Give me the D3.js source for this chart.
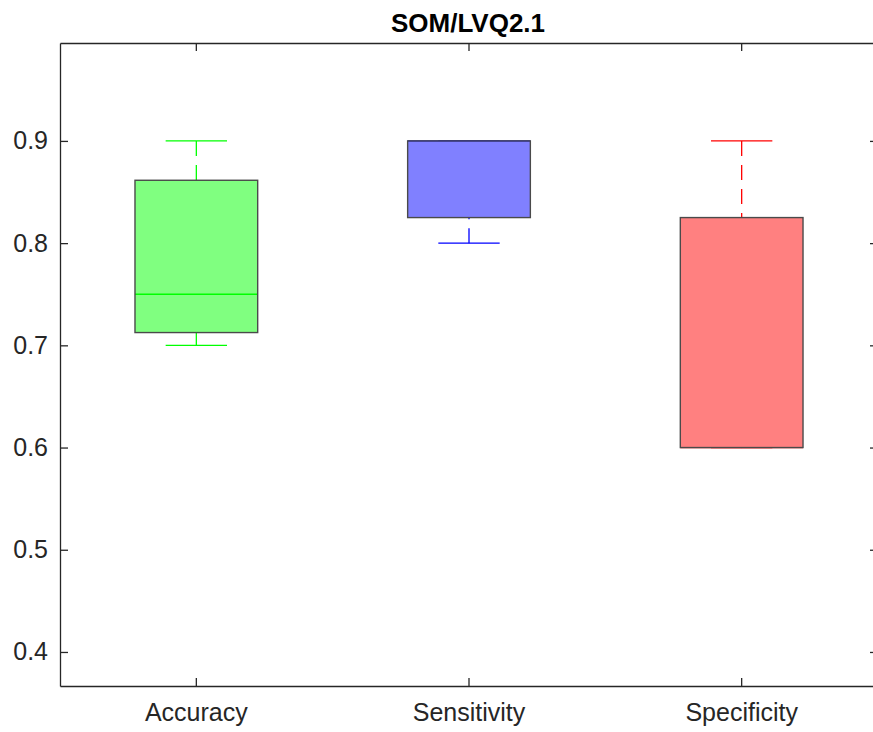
<!DOCTYPE html>
<html>
<head>
<meta charset="utf-8">
<script src="https://d3js.org/d3.v7.min.js"></script>
<style>
  body { margin: 0; background: #fff; }
  svg { display: block; }
</style>
</head>
<body>
<div id="box_object"></div>
<script>
// data
var categories = ["Accuracy", "Sensitivity", "Specificity"];
var lowerWhisker = [0.70, 0.80, 0.60];
var q1 = [0.7125, 0.825, 0.60];
var medians = [0.75, 0.90, 0.60];
var q3 = [0.8615, 0.90, 0.825];
var upperWhisker = [0.90, 0.90, 0.90];
var yTicks = [0.4, 0.5, 0.6, 0.7, 0.8, 0.9];
var lineColors = ["#00ff00", "#0000ff", "#ff0000"];
var fillColors = ["#80ff80", "#8080ff", "#ff8080"];
var titleText = "SOM/LVQ2.1";

var boxes = categories.map(function(c, i) {
  return {name: c, lo: lowerWhisker[i], q1: q1[i], med: medians[i], q3: q3[i], hi: upperWhisker[i],
          line: lineColors[i], fill: fillColors[i]};
});

// set the dimensions and margins of the graph
var totalW = 873, totalH = 732;
var margin = {top: 43, left: 60},
width = 818,
height = 643;

var svg = d3.select("#box_object")
.append("svg")
.attr("width", totalW)
.attr("height", totalH)
.style("font-family", "'Liberation Sans', Arial, sans-serif")
.append("g")
.attr("transform", "translate(" + margin.left + "," + margin.top + ")");

// scales
var x = d3.scaleBand()
.range([0, width])
.domain(categories)
.padding(0);

var y = d3.scaleLinear()
.domain([0.3667, 0.9958])
.range([height, 0]);

var boxW = x.bandwidth() * 0.45;
var capW = boxW / 2;

// whiskers (dashed)
svg.selectAll(".whiskUp")
.data(boxes)
.enter().append("line")
.attr("x1", d => x(d.name) + x.bandwidth() / 2)
.attr("x2", d => x(d.name) + x.bandwidth() / 2)
.attr("y1", d => y(d.hi))
.attr("y2", d => y(d.q3))
.style("stroke", d => d.line)
.style("stroke-width", 1.3)
.style("stroke-dasharray", "15,9");

svg.selectAll(".whiskDown")
.data(boxes)
.enter().append("line")
.attr("x1", d => x(d.name) + x.bandwidth() / 2)
.attr("x2", d => x(d.name) + x.bandwidth() / 2)
.attr("y1", d => y(d.lo))
.attr("y2", d => y(d.q1))
.style("stroke", d => d.line)
.style("stroke-width", 1.3)
.style("stroke-dasharray", "15,9");

// caps
svg.selectAll(".capHi")
.data(boxes)
.enter().append("line")
.attr("x1", d => x(d.name) + x.bandwidth() / 2 - capW / 2)
.attr("x2", d => x(d.name) + x.bandwidth() / 2 + capW / 2)
.attr("y1", d => y(d.hi))
.attr("y2", d => y(d.hi))
.style("stroke", d => d.line)
.style("stroke-width", 1.3);

svg.selectAll(".capLo")
.data(boxes)
.enter().append("line")
.attr("x1", d => x(d.name) + x.bandwidth() / 2 - capW / 2)
.attr("x2", d => x(d.name) + x.bandwidth() / 2 + capW / 2)
.attr("y1", d => y(d.lo))
.attr("y2", d => y(d.lo))
.style("stroke", d => d.line)
.style("stroke-width", 1.3);

// box fill
svg.selectAll(".boxFill")
.data(boxes)
.enter().append("rect")
.attr("x", d => x(d.name) + x.bandwidth() / 2 - boxW / 2)
.attr("y", d => y(d.q3))
.attr("width", boxW)
.attr("height", d => y(d.q1) - y(d.q3))
.style("fill", d => d.fill);

// median
svg.selectAll(".median")
.data(boxes)
.enter().append("line")
.attr("x1", d => x(d.name) + x.bandwidth() / 2 - boxW / 2)
.attr("x2", d => x(d.name) + x.bandwidth() / 2 + boxW / 2)
.attr("y1", d => y(d.med))
.attr("y2", d => y(d.med))
.style("stroke", d => d.line)
.style("stroke-width", 1.3);

// box outline
svg.selectAll(".boxEdge")
.data(boxes)
.enter().append("rect")
.attr("x", d => x(d.name) + x.bandwidth() / 2 - boxW / 2)
.attr("y", d => y(d.q3))
.attr("width", boxW)
.attr("height", d => y(d.q1) - y(d.q3))
.style("fill", "none")
.style("stroke", "#4a4a4a")
.style("stroke-width", 1.4);

// axes
var axisColor = "#262626";
var yLeft = svg.append("g").call(d3.axisLeft(y).tickValues(yTicks).tickFormat(d3.format(".1f")).tickSizeInner(-8).tickSizeOuter(0).tickPadding(12));
var yRight = svg.append("g").attr("transform", "translate(" + width + ",0)")
.call(d3.axisRight(y).tickValues(yTicks).tickFormat("").tickSizeInner(-8).tickSizeOuter(0));
var xBottom = svg.append("g").attr("transform", "translate(0," + height + ")")
.call(d3.axisBottom(x).tickSizeInner(-8).tickSizeOuter(0).tickPadding(17));
var xTop = svg.append("g")
.call(d3.axisTop(x).tickFormat("").tickSizeInner(-8).tickSizeOuter(0));

[yLeft, yRight, xBottom, xTop].forEach(function(g) {
  g.selectAll("path").style("stroke", axisColor).style("stroke-width", 1.3);
  g.selectAll("line").style("stroke", axisColor).style("stroke-width", 1.3);
  g.selectAll("text").style("fill", axisColor).style("font-size", "25px")
  .style("font-family", "'Liberation Sans', Arial, sans-serif");
});

// title
svg.append("text")
.attr("x", width / 2 - 1)
.attr("y", -11)
.attr("text-anchor", "middle")
.style("font-size", "26px")
.style("font-weight", "bold")
.style("fill", "#000")
.text(titleText);
</script>
</body>
</html>
